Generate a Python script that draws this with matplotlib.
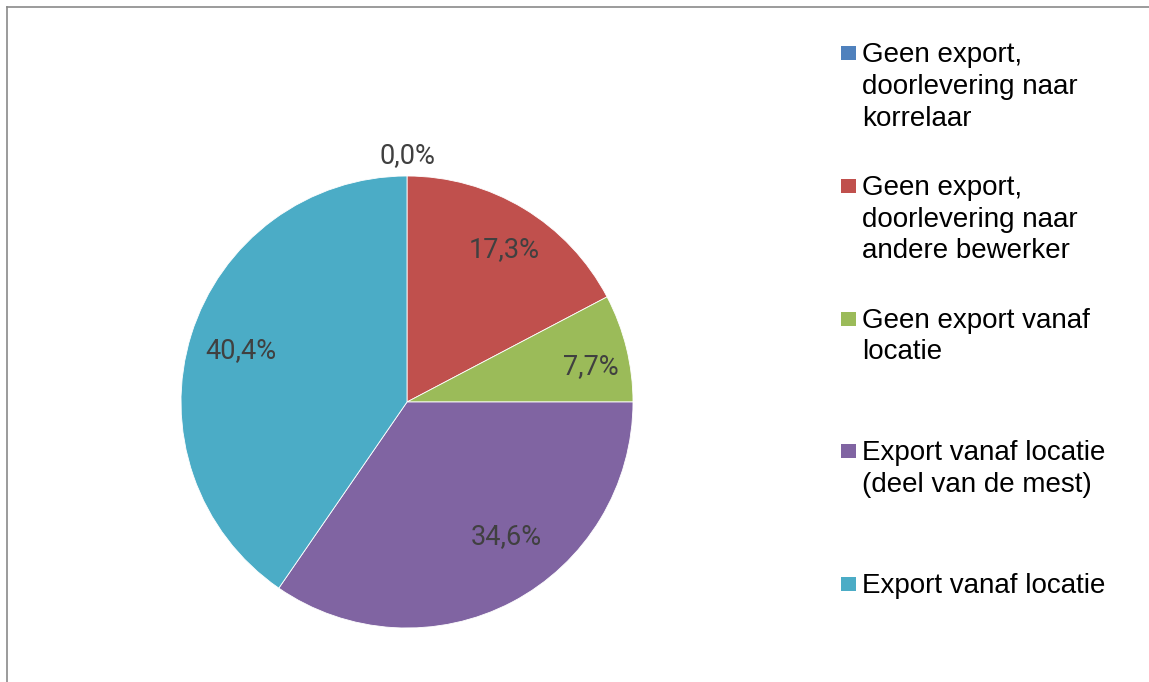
import numpy as np
import matplotlib
matplotlib.use("Agg")
import matplotlib.pyplot as plt
from matplotlib.patches import Rectangle
from matplotlib.lines import Line2D

plt.rcParams['font.family'] = ['Liberation Sans', 'DejaVu Sans']

categories = [
    "Geen export,\ndoorlevering naar\nkorrelaar",
    "Geen export,\ndoorlevering naar\nandere bewerker",
    "Geen export vanaf\nlocatie",
    "Export vanaf locatie\n(deel van de mest)",
    "Export vanaf locatie",
]
shares = [0.0, 17.3, 7.7, 34.6, 40.4]
colors = ["#4F81BD", "#C0504D", "#9BBB59", "#8064A2", "#4BACC6"]

# fine placement of the percentage labels (radius fraction, angle shift in degrees)
label_radius = [1.09, 0.80, 0.83, 0.74, 0.77]
label_turn = [0.0, -1.2, -3.1, 8.6, 0.0]

W, H = 1149, 682
fig = plt.figure(figsize=(W / 100, H / 100), dpi=100)

# pie area (square in pixels)
cx, cy, R = 407, 402, 226
ax = fig.add_axes([(cx - R) / W, (H - cy - R) / H, 2 * R / W, 2 * R / H])
wedges, _ = ax.pie(shares, colors=colors, startangle=90, counterclock=False,
                   radius=1.0, wedgeprops=dict(linewidth=0.6, edgecolor="white"))
ax.set_xlim(-1, 1)
ax.set_ylim(-1, 1)
ax.set_aspect("equal")
ax.axis("off")

# percentage labels
total = sum(shares)
start = 90.0
for v, r, turn in zip(shares, label_radius, label_turn):
    sweep = v / total * 360.0
    mid = np.deg2rad(start - sweep / 2 + turn)
    ax.text(r * np.cos(mid), r * np.sin(mid), f"{v:.1f}%".replace(".", ","),
            ha="center", va="center", fontsize=19.5, color="#404040",
            family=["Roboto", "DejaVu Sans"], clip_on=False)
    start -= sweep

# legend, entries top-aligned at equal spacing
x_box, x_txt = 841, 862
y0, step = 53, 132.8
for i, (lab, col) in enumerate(zip(categories, colors)):
    yc = y0 + i * step
    fig.patches.append(Rectangle((x_box / W, (H - yc - 7) / H), 15 / W, 14 / H,
                                 transform=fig.transFigure, facecolor=col,
                                 edgecolor="none"))
    fig.text(x_txt / W, (H - yc + 11) / H, lab, ha="left", va="top",
             fontsize=20, color="black", linespacing=1.29)

# chart-area frame (top and left edges)
fig.add_artist(Line2D([7 / W, 1], [(H - 7) / H, (H - 7) / H],
                      transform=fig.transFigure, color="#8a8a8a", linewidth=1.2))
fig.add_artist(Line2D([7 / W, 7 / W], [0, (H - 7) / H],
                      transform=fig.transFigure, color="#8a8a8a", linewidth=1.2))

fig.savefig("out.png", dpi=100)
